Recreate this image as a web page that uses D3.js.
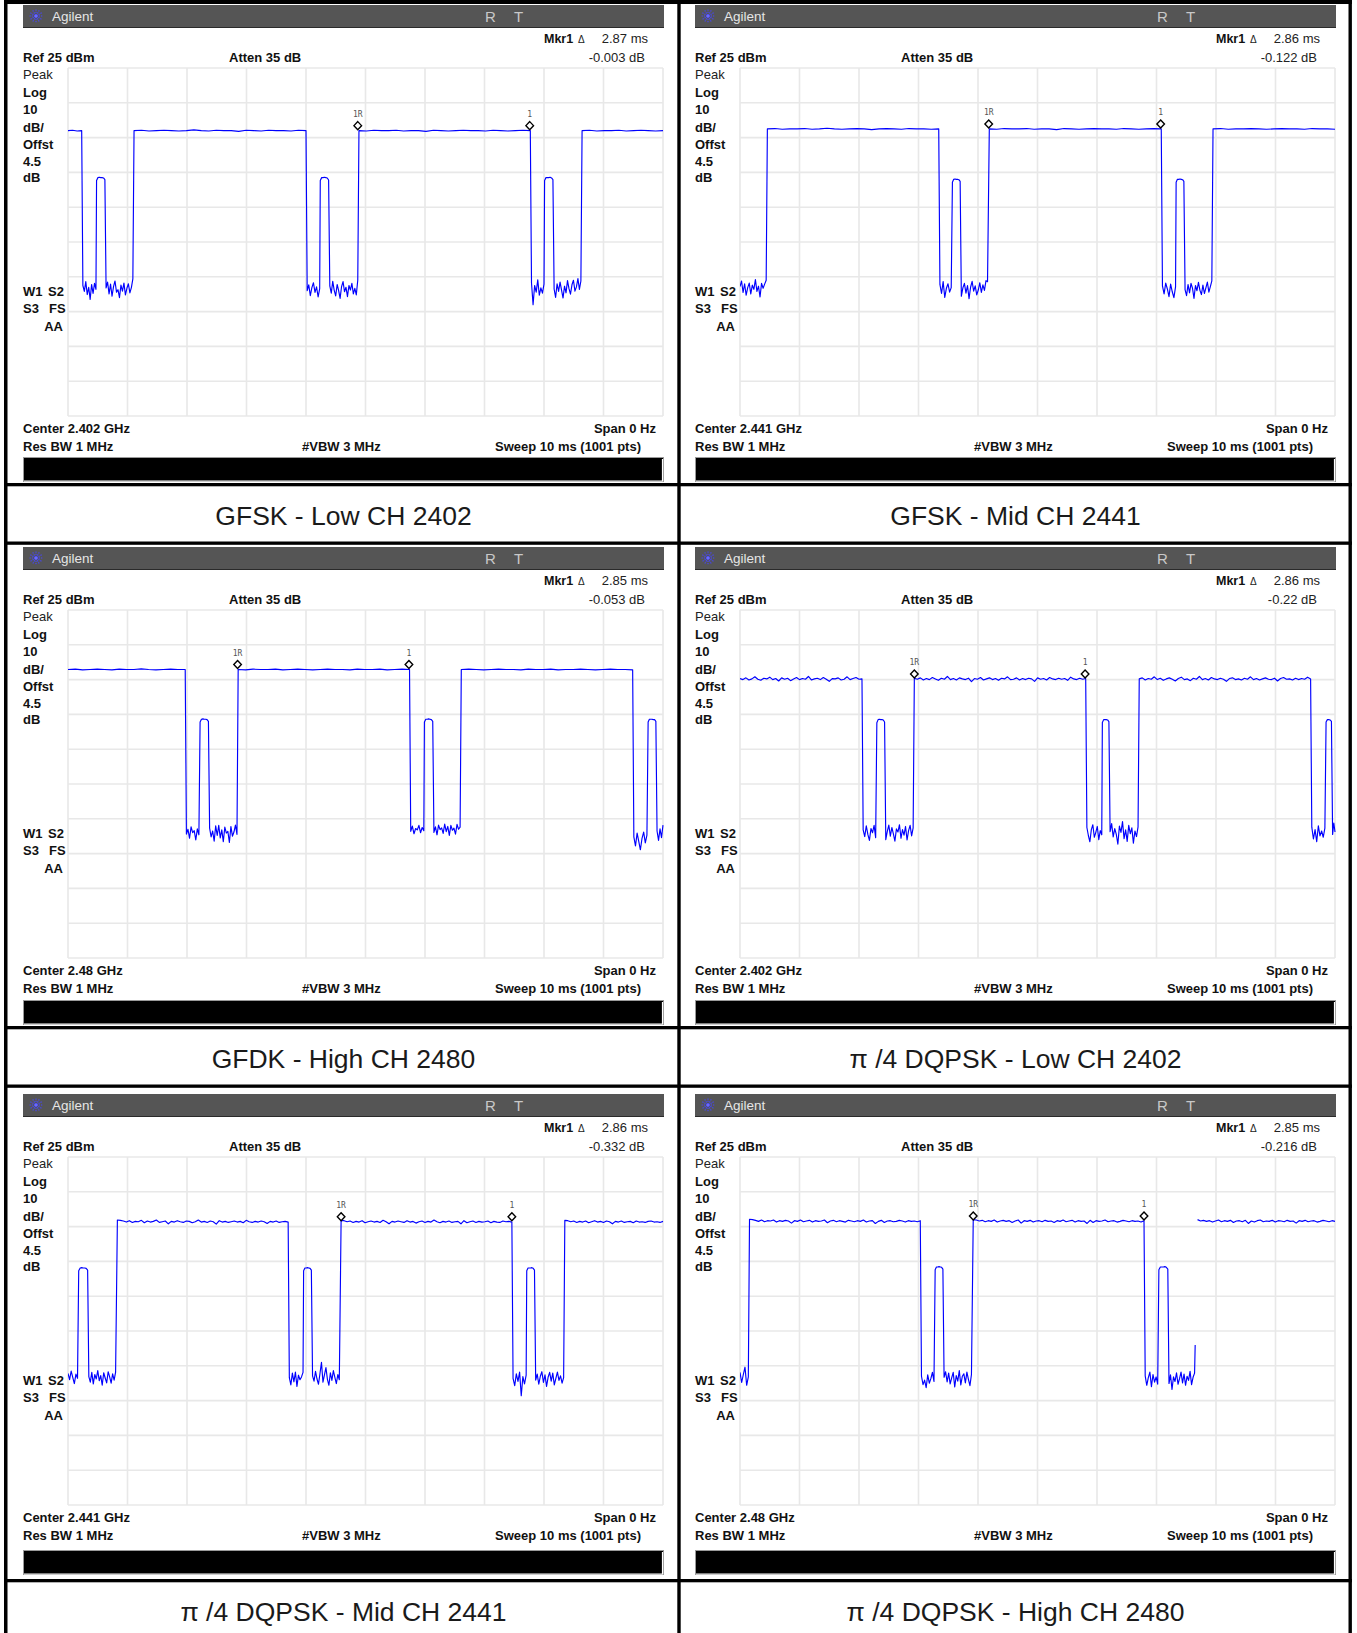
<!DOCTYPE html>
<html><head><meta charset="utf-8">
<script src="https://cdn.jsdelivr.net/npm/d3@7"></script>
<style>
body{margin:0;background:#fff}
svg{display:block}
text{font-family:"Liberation Sans",Arial,Helvetica,sans-serif}
</style>
</head><body>
<svg id="c" width="1357" height="1633"></svg>
<script>
// ---------------- data ----------------
const captions = ["GFSK - Low CH 2402","GFSK - Mid CH 2441","GFDK - High CH 2480",
  "\u03c0 /4 DQPSK - Low CH 2402","\u03c0 /4 DQPSK - Mid CH 2441","\u03c0 /4 DQPSK - High CH 2480"];
const centerFreqs = ["2.402","2.441","2.48","2.402","2.441","2.48"];
const mkrTimes = ["2.87","2.86","2.85","2.86","2.86","2.85"];
const mkrDeltas = ["-0.003","-0.122","-0.053","-0.22","-0.332","-0.216"];
const mkrRefMs = [4.87, 4.18, 2.85, 2.93, 4.59, 3.92];
const mkr1Ms = [7.76, 7.07, 5.73, 5.80, 7.46, 6.79];
const mkrLevel = [7.0, 7.5, 7.9, 5.2, 6.4, 6.6];
const refLevel = 25, dbPerDiv = 10, sweepMs = 10;
const timeTicks = [0,1,2,3,4,5,6,7,8,9,10];
const levelTicks = [25,15,5,-5,-15,-25,-35,-45,-55,-65,-75];
const sideLabels = ["Peak","Log","10","dB/","Offst","4.5","dB"];

// trace runs: [startMs, endMs, [dBm readings spread evenly from start to end]]
const traceGfskLow = [
 [0,0.23,[7.0,7.1,6.9,7.0]],
 [0.25,0.47,[-37.5,-39.2,-36.4,-40.1,-38.0,-41.5,-37.2,-39.8,-36.9,-38.6]],
 [0.48,0.62,[-7.3,-6.5,-6.4,-6.5,-6.5,-6.6,-7.1]],
 [0.64,1.09,[-38.2,-36.5,-39.9,-37.1,-40.6,-37.8,-36.2,-39.4,-38.7,-41.0,-37.4,-39.1,-36.8,-40.2,-38.3,-37.0,-39.6,-38.1,-35.6]],
 [1.11,4.00,[7.0,7.1,6.9,7.0,7.1,7.0,6.9,7.0,7.2,7.0,6.9,7.1,7.0,7.0,6.8,7.1,7.0,6.9,7.1,7.0,7.0,6.9,7.1,7.0]],
 [4.02,4.23,[-39.0,-37.3,-40.4,-38.1,-36.7,-39.5,-37.9,-40.8,-38.4]],
 [4.24,4.38,[-7.3,-6.5,-6.5,-6.4,-6.5,-6.6,-7.2]],
 [4.40,4.87,[-37.6,-39.7,-36.3,-38.9,-40.5,-37.2,-39.0,-41.2,-37.8,-36.4,-39.3,-38.0,-40.7,-37.5,-38.8,-36.9,-39.9,-38.3,-40.2,-36.0]],
 [4.89,7.77,[7.0,6.9,7.1,7.0,7.0,7.1,6.9,7.0,7.0,6.8,7.1,7.0,6.9,7.0,7.1,7.0,7.0,6.9,7.1,7.0,6.9,7.0,7.1,7.0]],
 [7.79,8.00,[-36.8,-43.0,-37.5,-39.4,-35.9,-40.3,-38.2,-39.7,-37.1]],
 [8.01,8.15,[-7.3,-6.5,-6.5,-6.5,-6.4,-6.6,-7.1]],
 [8.17,8.62,[-38.5,-40.9,-37.0,-39.2,-36.5,-38.8,-41.1,-37.7,-39.6,-36.1,-38.4,-40.0,-37.3,-36.0,-39.1,-37.9,-35.5,-38.6,-36.2]],
 [8.64,10,[7.0,7.1,6.9,7.0,7.0,7.1,6.9,7.0,7.1,7.0,6.9,7.0]]
];
const traceGfskMid = [
 [0,0.44,[-37.8,-36.2,-39.5,-37.0,-40.3,-38.1,-36.8,-39.9,-37.4,-38.6,-35.8,-39.2,-37.7,-40.8,-36.9,-38.3,-37.1,-36.0]],
 [0.46,3.34,[7.5,7.6,7.4,7.5,7.5,7.6,7.4,7.5,7.7,7.5,7.4,7.5,7.6,7.5,7.3,7.5,7.6,7.5,7.4,7.6,7.5,7.5,7.4,7.5]],
 [3.36,3.55,[-37.2,-39.8,-36.4,-40.9,-38.3,-37.0,-39.4,-38.1]],
 [3.57,3.70,[-7.8,-7.0,-6.9,-7.0,-7.0,-7.1,-7.6]],
 [3.72,4.16,[-40.6,-38.2,-36.9,-39.7,-37.5,-41.3,-38.0,-36.3,-39.1,-37.6,-40.2,-38.8,-36.7,-39.5,-37.3,-38.9,-36.1,-36.4]],
 [4.19,7.08,[7.5,7.4,7.6,7.5,7.5,7.6,7.4,7.5,7.5,7.3,7.6,7.5,7.4,7.5,7.6,7.5,7.5,7.4,7.6,7.5,7.4,7.5,7.6,7.5]],
 [7.10,7.32,[-37.6,-39.9,-36.8,-38.5,-40.7,-37.1,-39.3,-41.0,-37.9]],
 [7.33,7.46,[-7.8,-7.0,-7.0,-6.9,-7.0,-7.1,-7.6]],
 [7.48,7.93,[-38.7,-40.4,-37.2,-39.6,-36.9,-38.3,-41.2,-37.5,-39.0,-36.6,-38.9,-40.1,-37.4,-39.8,-38.2,-36.5,-39.4,-37.8,-36.2]],
 [7.95,10,[7.5,7.6,7.4,7.5,7.5,7.6,7.5,7.4,7.5,7.6,7.5,7.5,7.4,7.6,7.5,7.5,7.4]]
];
const traceGfdkHigh = [
 [0,1.97,[7.9,8.0,7.8,7.9,8.0,7.9,7.8,8.0,7.9,7.9,8.1,7.9,7.8,7.9,8.0,7.9,7.9]],
 [1.99,2.20,[-39.4,-38.0,-40.6,-37.3,-39.0,-38.4,-41.1,-37.9,-39.6]],
 [2.22,2.36,[-7.2,-6.4,-6.3,-6.4,-6.4,-6.5,-7.0]],
 [2.38,2.84,[-37.7,-40.2,-38.5,-41.4,-37.0,-39.8,-36.9,-40.5,-38.2,-41.6,-37.4,-39.1,-38.6,-41.8,-37.2,-40.0,-38.8,-36.8,-39.5]],
 [2.86,5.74,[7.9,7.8,8.0,7.9,7.9,8.0,7.8,7.9,8.0,7.9,7.8,7.9,8.0,7.9,7.9,7.8,8.0,7.9,7.9,8.0,7.8,7.9,8.0,7.9]],
 [5.76,5.98,[-38.6,-37.1,-39.3,-37.8,-38.2,-36.9,-39.0,-37.5,-38.4]],
 [5.99,6.13,[-7.2,-6.4,-6.4,-6.3,-6.4,-6.5,-7.0]],
 [6.15,6.59,[-38.9,-37.3,-39.6,-36.8,-38.1,-37.6,-39.2,-36.5,-38.7,-37.2,-39.8,-36.9,-38.3,-37.7,-39.4,-36.6,-38.0,-37.4]],
 [6.61,9.49,[7.9,8.0,7.9,7.8,7.9,8.0,7.9,7.9,7.8,8.0,7.9,7.9,8.0,7.8,7.9,7.9,8.0,7.9,7.8,7.9,8.0,7.9,7.9,7.8]],
 [9.51,9.73,[-40.2,-42.8,-39.1,-41.5,-43.9,-40.6,-38.8,-41.9,-39.7]],
 [9.75,9.88,[-7.2,-6.4,-6.4,-6.4,-6.5,-6.5,-7.0]],
 [9.90,10,[-38.5,-41.2,-37.9,-40.4,-36.8]]
];
const traceDqpskLow = [
 [0,2.05,[5.3,5.0,5.5,4.9,5.2,5.8,5.1,4.8,5.4,5.2,5.7,5.0,5.3,4.6,5.5,5.1,5.4,4.7,5.2,5.6,5.0,5.3,5.1,5.9,4.9,5.2,5.4,5.0,5.6,5.1,4.5,5.3,5.2,5.5,4.9,5.1,5.8,5.0,5.3,5.6,5.1,5.2]],
 [2.07,2.28,[-38.2,-40.1,-37.0,-39.5,-41.2,-37.8,-39.0,-36.9,-40.4]],
 [2.30,2.43,[-7.4,-6.5,-6.4,-6.5,-6.5,-6.6,-7.2]],
 [2.45,2.91,[-41.0,-38.6,-36.8,-40.0,-37.5,-39.3,-41.4,-37.9,-38.8,-36.7,-40.6,-38.1,-39.7,-37.2,-41.1,-38.4,-36.9,-39.9,-37.6]],
 [2.93,5.81,[5.4,5.1,5.5,4.9,5.3,5.0,5.6,5.2,4.8,5.4,5.1,5.9,5.0,5.3,4.9,5.5,5.2,5.0,5.4,4.4,5.3,5.1,5.6,4.9,5.2,5.5,5.0,5.3,4.8,5.4,5.2,5.8,5.0,5.1,5.5,4.9,5.3,5.0,5.4,5.2,4.5,5.5,5.1,5.3,4.9,5.6,5.2,5.0,5.4,5.1,5.3,4.8,5.7,5.2,5.0,5.4,5.1,5.3]],
 [5.83,6.08,[-37.5,-39.8,-41.6,-38.1,-36.7,-40.3,-38.9,-37.2,-41.0,-38.4,-39.6]],
 [6.09,6.20,[-7.3,-6.5,-6.5,-6.5,-6.6,-7.1]],
 [6.22,6.69,[-38.7,-36.4,-40.2,-37.8,-39.5,-42.3,-37.1,-38.9,-35.8,-40.7,-38.2,-41.5,-36.9,-39.3,-37.6,-42.0,-38.5,-40.1,-37.3]],
 [6.71,9.59,[5.2,5.5,4.9,5.3,5.1,5.8,5.0,5.4,4.8,5.2,5.5,5.1,4.6,5.3,5.7,5.0,5.2,4.7,5.4,5.1,5.9,5.0,5.3,4.9,5.6,5.2,5.0,5.4,5.1,4.5,5.3,5.5,5.0,5.2,4.9,5.4,5.1,5.8,5.0,5.3,4.9,5.2,5.5,5.1,5.0,5.4,4.6,5.3,5.6,5.1,5.2,4.9,5.4,5.0,5.3,5.1,5.7,5.2]],
 [9.61,9.83,[-37.4,-40.8,-38.1,-41.6,-37.0,-39.9,-38.5,-40.3,-37.7]],
 [9.85,9.94,[-7.2,-6.5,-6.5,-6.6,-7.0]],
 [9.96,10,[-39.5,-36.2,-38.8]]
];
const traceDqpskMid = [
 [0,0.16,[-37.2,-39.0,-36.5,-38.3,-40.1,-37.4,-38.6]],
 [0.18,0.33,[-7.7,-6.9,-6.8,-6.9,-6.9,-7.0,-7.5]],
 [0.35,0.80,[-38.1,-39.7,-36.9,-40.2,-37.5,-38.8,-36.4,-39.3,-37.8,-40.6,-37.0,-38.5,-39.9,-36.7,-38.2,-40.0,-37.3,-39.1,-36.8]],
 [0.83,3.70,[6.9,6.8,6.6,6.3,6.7,6.2,6.5,6.4,6.8,6.1,6.6,6.3,6.5,6.9,6.2,6.4,6.6,5.8,6.5,6.3,6.7,6.4,6.2,6.6,6.5,6.1,6.4,6.9,6.3,6.5,6.2,6.6,6.4,5.7,6.7,6.3,6.5,6.2,6.4,6.6,6.3,6.5,6.1,6.8,6.4,6.2,6.5,6.3,6.6,6.4,5.9,6.5,6.3,6.6,6.2,6.4,6.5,6.3]],
 [3.72,3.95,[-38.4,-40.5,-37.1,-39.6,-36.8,-40.9,-37.7,-39.0,-38.2,-36.9]],
 [3.96,4.09,[-7.7,-6.9,-6.9,-6.8,-6.9,-7.0,-7.5]],
 [4.11,4.56,[-37.9,-39.4,-36.6,-38.8,-40.3,-37.2,-34.0,-39.7,-37.6,-35.5,-38.9,-40.6,-37.0,-39.2,-36.4,-38.3,-40.1,-37.5,-39.0]],
 [4.59,7.46,[6.8,6.7,6.4,6.6,6.2,6.5,6.3,6.7,6.1,6.4,6.6,6.3,6.5,6.2,6.8,6.4,5.8,6.5,6.3,6.6,6.4,6.2,6.7,6.3,6.5,6.0,6.4,6.6,6.2,6.5,6.3,6.9,6.4,6.1,6.5,6.3,6.6,6.2,6.4,6.5,5.8,6.7,6.1,6.4,6.6,6.2,6.5,6.3,6.4,6.6,6.1,6.5,6.3,6.2,6.6,6.4,6.5,6.3]],
 [7.48,7.70,[-38.6,-40.7,-37.3,-39.5,-36.8,-43.6,-38.1,-40.2,-37.7]],
 [7.71,7.84,[-7.7,-6.9,-6.9,-6.9,-6.8,-7.0,-7.5]],
 [7.86,8.33,[-39.1,-37.4,-40.3,-38.0,-36.7,-39.8,-37.6,-40.9,-38.3,-36.9,-39.4,-37.1,-40.5,-38.6,-36.8,-39.2,-37.9,-40.0,-38.4]],
 [8.35,10,[6.8,6.7,6.4,6.6,6.2,6.5,6.3,6.6,6.1,6.4,6.7,6.3,6.5,6.2,6.6,6.4,5.8,6.5,6.3,6.6,6.2,6.4,6.5,6.1,6.6,6.3,6.4,6.2,6.5,6.6,6.3,6.4,6.2,6.5]]
];
const traceDqpskHigh = [
 [0,0.14,[-36.9,-39.8,-37.5,-35.4,-40.6,-38.2]],
 [0.16,3.03,[7.1,7.0,6.8,6.5,6.9,6.4,6.7,6.6,6.9,6.3,6.7,6.5,6.8,6.6,6.0,6.7,6.5,6.9,6.4,6.6,6.8,6.3,6.7,6.5,6.6,6.9,6.1,6.6,6.8,6.4,6.7,6.5,6.3,6.8,6.6,6.4,6.7,6.5,6.9,6.3,6.6,6.7,5.9,6.5,6.8,6.2,6.6,6.7,6.4,6.5,6.8,6.6,6.3,6.7,6.5,6.6,6.4,6.7]],
 [3.05,3.26,[-38.0,-40.4,-39.1,-41.3,-37.6,-40.0,-38.7,-36.9,-39.5]],
 [3.28,3.41,[-7.4,-6.6,-6.6,-6.5,-6.6,-6.7,-7.2]],
 [3.43,3.89,[-38.3,-36.7,-39.6,-37.1,-40.2,-38.5,-36.9,-41.1,-37.8,-39.4,-36.4,-40.5,-38.0,-37.3,-39.9,-36.8,-38.9,-40.7,-37.5]],
 [3.92,6.79,[7.0,6.9,6.6,6.8,6.4,6.7,6.5,6.9,6.3,6.6,6.8,6.5,6.7,6.2,6.6,6.9,6.0,6.7,6.5,6.8,6.3,6.6,6.7,6.4,6.8,6.5,6.6,6.2,6.7,6.5,6.9,6.4,6.6,6.8,6.3,6.7,6.5,6.6,5.9,6.8,6.2,6.7,6.5,6.6,6.9,6.4,6.6,6.7,6.3,6.5,6.8,6.6,6.4,6.7,6.5,6.6,6.3,6.7]],
 [6.81,7.02,[-37.9,-40.6,-38.4,-36.8,-41.0,-37.5,-39.7,-38.2,-40.3]],
 [7.04,7.19,[-7.4,-6.6,-6.6,-6.6,-6.5,-6.7,-7.2]],
 [7.21,7.64,[-40.1,-37.6,-41.8,-38.2,-39.5,-37.0,-40.3,-38.7,-36.8,-39.9,-37.4,-40.6,-38.0,-39.2,-36.6,-40.4,-38.3,-37.1]],
 [7.65,7.65,[-29]],
 [7.67,7.67,[null]],
 [7.69,10,[7.0,6.6,6.8,6.5,6.7,6.3,6.6,6.9,6.4,6.7,6.5,6.8,6.2,6.6,6.7,6.4,6.8,5.9,6.6,6.3,6.7,6.9,6.4,6.6,6.5,6.8,6.3,6.7,6.6,6.4,6.8,6.5,6.6,6.0,6.7,6.5,6.8,6.4,6.6,6.7,6.3,6.5,6.8,6.6,6.4,6.7,6.5]]
];
const traces = [traceGfskLow, traceGfskMid, traceGfdkHigh, traceDqpskLow, traceDqpskMid, traceDqpskHigh];

// ---------------- layout ----------------
const W = 1357, H = 1633;
const colLefts = [23, 695];
const rowTops = [5, 547, 1094];
const barOff = [452, 453, 456];
const capLineOff = [478, 479, 485];
const PW = 641;

const svg = d3.select("#c");
svg.append("rect").attr("width", W).attr("height", H).attr("fill", "#fff");
const defs = svg.append("defs");

function txt(g, x, y, s, o = {}) {
  return g.append("text").attr("x", x).attr("y", y).text(s)
    .attr("font-size", o.size || 13)
    .attr("font-weight", o.bold ? "bold" : "normal")
    .attr("text-anchor", o.anchor || "start")
    .attr("fill", o.fill || "#111")
    .style("font-family", o.family || null);
}

function expand(runs) {
  const pts = [];
  runs.forEach(([t0, t1, vals]) => {
    const n = vals.length;
    vals.forEach((v, k) => pts.push([n === 1 ? t0 : t0 + k * (t1 - t0) / (n - 1), v]));
  });
  return pts;
}

function drawPanel(i) {
  const col = i % 2, row = Math.floor(i / 2);
  const L = colLefts[col], T = rowTops[row];
  const g = svg.append("g");

  // header bar
  g.append("rect").attr("x", L).attr("y", T).attr("width", PW).attr("height", 22).attr("fill", "#555555");
  g.append("line").attr("x1", L).attr("x2", L + PW).attr("y1", T + 22.5).attr("y2", T + 22.5)
    .attr("stroke", "#2a2a2a").attr("stroke-width", 1);
  const sx = L + 13, sy = T + 11;
  [0, 30, 60, 90, 120, 150].forEach(a => {
    const r = a * Math.PI / 180;
    g.append("line").attr("x1", sx - 6.5 * Math.cos(r)).attr("y1", sy - 6.5 * Math.sin(r))
      .attr("x2", sx + 6.5 * Math.cos(r)).attr("y2", sy + 6.5 * Math.sin(r))
      .attr("stroke", "#4646ff").attr("stroke-width", 1.1).attr("stroke-dasharray", "1.3,1");
  });
  g.append("circle").attr("cx", sx).attr("cy", sy).attr("r", 1.6).attr("fill", "#6a6aff");
  txt(g, L + 29, T + 16, "Agilent", {size: 13.5, fill: "#e6e6e6"});
  txt(g, L + 462, T + 17, "R", {size: 15, fill: "#c8c8c8"});
  txt(g, L + 491, T + 17, "T", {size: 15, fill: "#c8c8c8"});

  // marker readout
  txt(g, L + 521, T + 38, "Mkr1", {bold: true, size: 12.5});
  txt(g, L + 555, T + 38, "\u0394", {size: 10, fill: "#222"});
  txt(g, L + 625, T + 38, mkrTimes[i] + " ms", {size: 13, anchor: "end", fill: "#222"});
  txt(g, L, T + 57, "Ref 25 dBm", {bold: true});
  txt(g, L + 206, T + 57, "Atten 35 dB", {bold: true});
  txt(g, L + 622, T + 57, mkrDeltas[i] + " dB", {size: 13, anchor: "end", fill: "#222"});

  const sideY = [74, 92, 109, 127, 144, 161, 177];
  sideLabels.forEach((s, k) => txt(g, L, T + sideY[k], s, {bold: k > 0, fill: k === 0 ? "#222" : "#111"}));
  txt(g, L, T + 291, "W1", {bold: true}); txt(g, L + 25, T + 291, "S2", {bold: true});
  txt(g, L, T + 308, "S3", {bold: true}); txt(g, L + 26, T + 308, "FS", {bold: true});
  txt(g, L + 40, T + 326, "AA", {bold: true, anchor: "end"});

  txt(g, L, T + 428, "Center " + centerFreqs[i] + " GHz", {bold: true});
  txt(g, L + 633, T + 428, "Span 0 Hz", {bold: true, anchor: "end"});
  txt(g, L, T + 446, "Res BW 1 MHz", {bold: true});
  txt(g, L + 279, T + 446, "#VBW 3 MHz", {bold: true});
  txt(g, L + 618, T + 446, "Sweep 10 ms (1001 pts)", {bold: true, anchor: "end"});

  // black status bar
  const bb = T + barOff[row];
  g.append("rect").attr("x", L + 0.5).attr("y", bb + 0.5).attr("width", PW - 1).attr("height", 24)
    .attr("fill", "#000").attr("stroke", "#9a9a9a").attr("stroke-width", 1);
  g.append("line").attr("x1", L + 1).attr("x2", L + PW - 1).attr("y1", bb + 24).attr("y2", bb + 24)
    .attr("stroke", "#fff").attr("stroke-width", 1.2);
  g.append("line").attr("x1", L + PW - 1.5).attr("x2", L + PW - 1.5).attr("y1", bb + 2).attr("y2", bb + 24)
    .attr("stroke", "#fff").attr("stroke-width", 1.2);

  // grid
  const gx = L + 45, gy = T + 63, gw = 595, gh = 348;
  const x = d3.scaleLinear().domain([0, sweepMs]).range([gx, gx + gw]);
  const y = d3.scaleLinear().domain([refLevel - 10 * dbPerDiv, refLevel]).range([gy + gh, gy]);
  g.append("g").selectAll("line").data(timeTicks).join("line")
    .attr("x1", d => x(d)).attr("x2", d => x(d)).attr("y1", gy).attr("y2", gy + gh)
    .attr("stroke", "#e8e8e8").attr("stroke-width", 1.6);
  g.append("g").selectAll("line").data(levelTicks).join("line")
    .attr("x1", gx).attr("x2", gx + gw).attr("y1", d => y(d)).attr("y2", d => y(d))
    .attr("stroke", "#e8e8e8").attr("stroke-width", 1.6);

  // trace
  const cid = "clip" + i;
  defs.append("clipPath").attr("id", cid).append("rect")
    .attr("x", gx).attr("y", gy - 2).attr("width", gw + 1).attr("height", gh + 4);
  const line = d3.line().defined(d => d[1] !== null).x(d => x(d[0])).y(d => y(d[1]));
  g.append("path").datum(expand(traces[i])).attr("d", line)
    .attr("fill", "none").attr("stroke", "#0000ff").attr("stroke-width", 1.15)
    .attr("stroke-linejoin", "round").attr("clip-path", `url(#${cid})`);

  // markers
  [[mkrRefMs[i], "1R"], [mkr1Ms[i], "1"]].forEach(([t, lab]) => {
    const mx = x(t), my = y(mkrLevel[i]);
    g.append("path").attr("d", `M${mx},${my - 9} L${mx + 3.8},${my - 5} L${mx},${my - 1} L${mx - 3.8},${my - 5} Z`)
      .attr("fill", "#fff").attr("stroke", "#000").attr("stroke-width", 1.4);
    txt(g, mx, my - 14, lab, {size: 8, anchor: "middle", fill: "#555", family: "'DejaVu Sans Mono', monospace"});
  });

  // caption
  const cl = T + capLineOff[row];
  const cx = col === 0 ? (6 + 679) / 2 : (679 + 1350) / 2;
  txt(g, cx + 1, cl + 42, captions[i], {size: 26.5, anchor: "middle", fill: "#1a1a1a"});
}

d3.range(6).forEach(drawPanel);

// table borders
const B = svg.append("g").attr("fill", "#000");
B.append("rect").attr("x", 4).attr("y", 0).attr("width", 3.5).attr("height", H);
B.append("rect").attr("x", 677.3).attr("y", 0).attr("width", 3.4).attr("height", H);
B.append("rect").attr("x", 1348.5).attr("y", 0).attr("width", 3.4).attr("height", H);
B.append("rect").attr("x", 4).attr("y", 0).attr("width", 1348).attr("height", 4);
rowTops.forEach((T, r) => {
  B.append("rect").attr("x", 4).attr("y", T + capLineOff[r]).attr("width", 1348).attr("height", 3.3);
  B.append("rect").attr("x", 4).attr("y", T + capLineOff[r] + 58.5).attr("width", 1348).attr("height", 3.3);
});
</script>
</body></html>
